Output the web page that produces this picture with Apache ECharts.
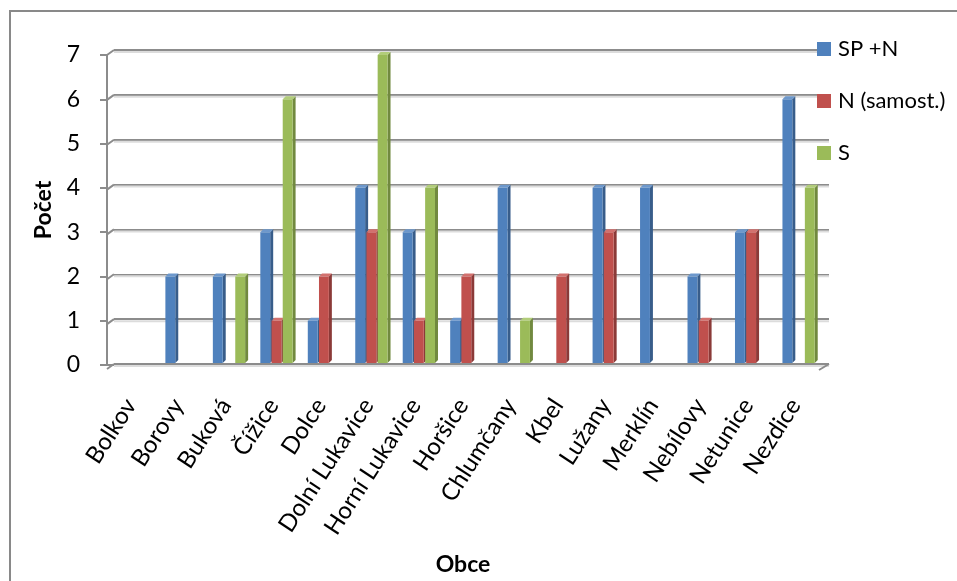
<!DOCTYPE html>
<html>
<head>
<meta charset="utf-8">
<script src="https://cdn.jsdelivr.net/npm/echarts@6/dist/echarts.min.js"></script>
<style>html,body{margin:0;padding:0;background:#fff;}#c{width:957px;height:581px;}</style>
</head>
<body>
<div id="c"></div>
<script>
var categories = ['Bolkov','Borovy','Buková','Čížice','Dolce','Dolní Lukavice','Horní Lukavice','Horšice','Chlumčany','Kbel','Lužany','Merklín','Nebílovy','Netunice','Nezdice'];
var seriesNames = ['SP +N','N (samost.)','S'];
var spN      = [0,2,2,3,1,4,3,1,4,0,4,4,2,3,6];
var nSamost  = [0,0,0,1,2,3,1,2,0,2,3,0,1,3,0];
var sValues  = [0,0,2,6,0,7,4,0,1,0,0,0,0,0,4];
var yTicks   = [0,1,2,3,4,5,6,7];

var palettes = [
  {front:'#4F81BD', side:'#385D8A', top:'#6D98CC'},
  {front:'#C0504D', side:'#8B3A38', top:'#D2716E'},
  {front:'#9BBB59', side:'#71893F', top:'#B2CD7A'}
];
var FONT = 'Lato';

function toData(arr){ return arr.map(function(v,i){ return [i, v]; }); }

function makeRender(si, pal){
  return function(params, api){
    var i = api.value(0), v = api.value(1);
    if (!v) return null;
    var c = api.coord([i, v]);
    var b = api.coord([i, 0]);
    var bw = api.size([1, 0])[0];
    var slot = bw * 0.236, fw = bw * 0.208, d = 3;
    var x = c[0] - bw * 0.27 + si * slot;
    var yT = c[1], yB = b[1] - 2;
    return {type:'group', children:[
      {type:'polygon', shape:{points:[[x+fw,yT],[x+fw+d,yT-d],[x+fw+d,yB-d],[x+fw,yB]]}, style:{fill:pal.side}},
      {type:'rect', shape:{x:x, y:yT, width:fw, height:yB-yT}, style:{fill:pal.front}},
      {type:'polygon', shape:{points:[[x,yT],[x+fw,yT],[x+fw+d,yT-d],[x+d,yT-d]]}, style:{fill:pal.top}}
    ]};
  };
}

function wallRender(params, api){
  var v = api.value(0);
  var p = api.coord([0, v]);
  var cs = params.coordSys;
  var y = p[1], x0 = cs.x, x1 = cs.x + cs.width;
  var ch = [
    {type:'line', shape:{x1:x0, y1:y+2, x2:x1, y2:y+2}, style:{stroke:'#dcdcdc', lineWidth:2}},
    {type:'line', shape:{x1:x0-7, y1:y+5, x2:x0, y2:y}, style:{stroke:'#8c8c8c', lineWidth:2}}
  ];
  if (v === 0) {
    ch.push({type:'line', shape:{x1:x1-10, y1:y+6, x2:x1, y2:y}, style:{stroke:'#8c8c8c', lineWidth:2}});
  }
  return {type:'group', children:ch};
}

var series = [
  {type:'custom', name:'wall', xAxisIndex:1, yAxisIndex:1, silent:true, z:1,
   data: yTicks.map(function(t){ return [t]; }), encode:{y:0}, renderItem: wallRender}
];
[spN, nSamost, sValues].forEach(function(arr, si){
  series.push({
    type:'custom', name: seriesNames[si], xAxisIndex:0, yAxisIndex:0, z:5,
    itemStyle:{color: palettes[si].front},
    data: toData(arr), encode:{x:0, y:1},
    renderItem: makeRender(si, palettes[si])
  });
});

var chart = echarts.init(document.getElementById('c'));
chart.setOption({
  animation:false,
  backgroundColor:'#fff',
  graphic:[{type:'rect', shape:{x:10, y:11, width:980, height:620}, style:{fill:'none', stroke:'#898989', lineWidth:2}, z:0}],
  legend:{
    orient:'vertical', left:817, top:38, padding:0, itemWidth:14, itemHeight:14, itemGap:30, icon:'rect',
    data: seriesNames,
    textStyle:{fontFamily:FONT, fontSize:22, lineHeight:22, color:'#000', padding:[0,0,0,2]}
  },
  grid:[
    {left:107, right:138, top:55, bottom:212},
    {left:114, right:128, top:50, bottom:217}
  ],
  xAxis:[
    {type:'category', gridIndex:0, data:categories,
     name:'Obce', nameLocation:'middle', nameGap:188,
     nameTextStyle:{fontFamily:FONT, fontSize:23, fontWeight:'bold', color:'#000'},
     axisLine:{lineStyle:{color:'#8c8c8c', width:2}},
     axisTick:{length:7, lineStyle:{color:'#8c8c8c', width:2}},
     axisLabel:{rotate:57, interval:0, margin:36, fontFamily:FONT, fontSize:24, color:'#000'}},
    {type:'category', gridIndex:1, data:categories, show:false}
  ],
  yAxis:[
    {type:'value', gridIndex:0, min:0, max:7, interval:1,
     name:'Počet', nameLocation:'middle', nameGap:52, nameRotate:90,
     nameTextStyle:{fontFamily:FONT, fontSize:23, fontWeight:'bold', color:'#000'},
     axisLine:{show:true, lineStyle:{color:'#8c8c8c', width:2}},
     axisTick:{show:true, length:7, lineStyle:{color:'#8c8c8c', width:2}},
     splitLine:{show:false},
     axisLabel:{margin:27, fontFamily:FONT, fontSize:23, color:'#000'}},
    {type:'value', gridIndex:1, min:0, max:7, interval:1,
     axisLine:{show:false}, axisTick:{show:false}, axisLabel:{show:false},
     splitLine:{show:true, lineStyle:{color:'#8c8c8c', width:2}}}
  ],
  series: series
});
</script>
</body>
</html>
